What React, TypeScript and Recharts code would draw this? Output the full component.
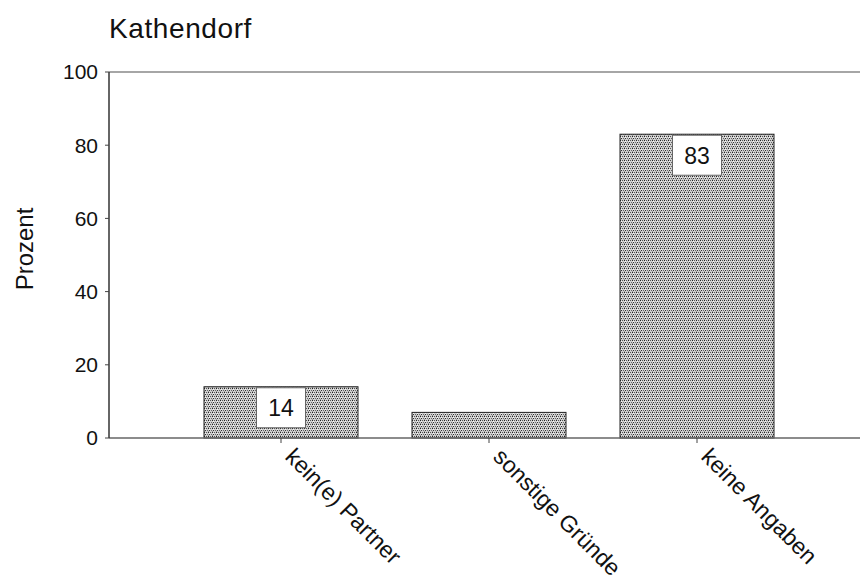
import React from "react";
import { BarChart, Bar, XAxis, YAxis, ReferenceLine, LabelList } from "recharts";

const categories = ["kein(e) Partner", "sonstige Gründe", "keine Angaben"];
const values = [14, 7, 83];
const showLabel = [true, false, true];
const yTicks = [0, 20, 40, 60, 80, 100];
const title = "Kathendorf";
const yTitle = "Prozent";

const data = categories.map((c, i) => ({ name: c, value: values[i], show: showLabel[i] }));

const FONT = "'Liberation Sans', Arial, sans-serif";

const PatternBar = (props: any) => {
  const { x, y, width, height, index } = props;
  const id = `dither-${index}`;
  return (
    <g>
      <defs>
        <pattern id={id} width={4} height={4} patternUnits="userSpaceOnUse">
          <rect width={4} height={4} fill="#d0d0d0" />
          <rect x={0} y={0} width={1} height={1} fill="#222" />
          <rect x={2} y={0} width={1} height={1} fill="#555" />
          <rect x={1} y={2} width={1} height={1} fill="#333" />
          <rect x={3} y={2} width={1} height={1} fill="#666" />
          <rect x={0} y={3} width={1} height={1} fill="#999" />
          <rect x={1} y={1} width={1} height={1} fill="#f4f4f4" />
        </pattern>
      </defs>
      <rect x={x} y={y} width={width} height={height} fill={`url(#${id})`} stroke="#222" strokeWidth={1} />
    </g>
  );
};

const BoxLabel = (props: any) => {
  const { x, y, width, value, index } = props;
  if (!showLabel[index]) return null;
  const bw = 49;
  const bh = 40;
  const cx = x + width / 2;
  return (
    <g>
      <rect x={cx - bw / 2} y={y + 1} width={bw} height={bh} fill="#fff" stroke="#666" strokeWidth={1} />
      <text x={cx} y={y + 1 + bh / 2} dy="0.36em" textAnchor="middle" fontSize={23} fontFamily={FONT} fill="#111">
        {value}
      </text>
    </g>
  );
};

const XTick = (props: any) => {
  const { x, y, payload } = props;
  return (
    <g transform={`translate(${x + 3},${y + 13})`}>
      <text x={0} y={0} transform="rotate(45)" textAnchor="start" fontSize={23} fontFamily={FONT} fill="#111">
        {payload.value}
      </text>
    </g>
  );
};

export default function App() {
  return (
    <div style={{ position: "fixed", left: 0, top: 0, width: 860, height: 584, overflow: "hidden", background: "#fff" }}>
      <div
        style={{
          position: "absolute",
          left: 109,
          top: 14,
          fontFamily: FONT,
          fontSize: 28,
          letterSpacing: 0.6,
          color: "#111",
          lineHeight: "30px",
          whiteSpace: "nowrap",
        }}
      >
        {title}
      </div>
      <BarChart
        width={860}
        height={584}
        data={data}
        margin={{ top: 72, right: 0, bottom: 0, left: 0 }}
      >
        <XAxis
          dataKey="name"
          height={146}
          axisLine={{ stroke: "#666", strokeWidth: 1.5 }}
          tickLine={{ stroke: "#444" }}
          tickSize={5}
          padding={{ left: 68, right: 59 }}
          tick={<XTick />}
          interval={0}
        />
        <YAxis
          width={109}
          domain={[0, 100]}
          ticks={yTicks}
          axisLine={{ stroke: "#333", strokeWidth: 1.5 }}
          tickLine={{ stroke: "#444" }}
          tickSize={4}
          tickMargin={7}
          tick={{ fontSize: 21, fontFamily: FONT, fill: "#111" }}
          label={{
            value: yTitle,
            angle: -90,
            position: "insideLeft",
            offset: 24,
            dy: -6,
            style: { fontSize: 24, fontFamily: FONT, fill: "#111", textAnchor: "middle" },
          }}
        />
        <ReferenceLine y={100} stroke="#888" strokeWidth={1.5} />
        <Bar dataKey="value" barSize={154} shape={<PatternBar />} isAnimationActive={false}>
          <LabelList dataKey="value" content={<BoxLabel />} />
        </Bar>
      </BarChart>
    </div>
  );
}
